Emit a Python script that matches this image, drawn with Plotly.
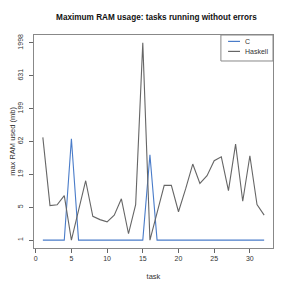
import numpy as np
import plotly.graph_objects as go

tasks = list(range(1, 33))
c_ram = [1, 1, 1, 1, 68.5, 1, 1, 1, 1, 1, 1, 1, 1, 1, 1, 38.7,
         1, 1, 1, 1, 1, 1, 1, 1, 1, 1, 1, 1, 1, 1, 1, 1]
haskell_ram = [72, 5.7, 5.9, 8.5, 1, 4.6, 15, 3.6, 3.1, 2.8, 3.8, 7.5, 1.5, 5.95, 1998, 1,
               4.3, 12.6, 12.6, 4.4, 11, 27.7, 13.6, 18.1, 31.3, 36, 10.3, 56.7, 6.8, 37.4, 5.95, 3.8]
x_ticks = [0, 5, 10, 15, 20, 25, 30]
series_names = ["C", "Haskell"]
series_colors = ["#4a7cc9", "#666666"]


def tr(v):
    return np.log10(np.asarray(v, dtype=float) + 1)


allv = np.array(c_ram + haskell_ram)
lo, hi = tr(allv.min()), tr(allv.max())
ytick_pos = np.linspace(lo, hi, 7)
ytick_txt = [str(int(round(10 ** p - 1))) for p in ytick_pos]
span = hi - lo

fig = go.Figure()
for name, vals, col in zip(series_names, [c_ram, haskell_ram], series_colors):
    fig.add_trace(go.Scatter(x=tasks, y=tr(vals), mode="lines", name=name,
                             line=dict(color=col, width=1.1), showlegend=False))

axis_common = dict(showgrid=False, zeroline=False, showline=True, mirror=True,
                   linecolor="#888888", linewidth=1, ticks="outside", ticklen=4,
                   tickcolor="#666666", tickfont=dict(size=7, color="#333333"),
                   automargin=False)

fig.update_xaxes(range=[1 - 0.04 * 31, 32 + 0.04 * 31], tickvals=x_ticks,
                 title=dict(text="task", font=dict(size=7.5, color="#333333"), standoff=12),
                 **axis_common)
fig.update_yaxes(range=[lo - 0.04 * span, hi + 0.04 * span], tickvals=ytick_pos,
                 ticktext=ytick_txt, tickangle=-90, ticklabelstandoff=3,
                 title=dict(text="max RAM used (mb)", font=dict(size=7.5, color="#333333"), standoff=9),
                 **axis_common)

# legend box (top-right, drawn in paper coordinates)
fig.add_shape(type="rect", xref="paper", yref="paper", x0=0.782, x1=1.0, y0=0.878, y1=1.0,
              line=dict(color="#888888", width=1), fillcolor="white")
for i, (name, col) in enumerate(zip(series_names, series_colors)):
    yy = 0.970 - i * 0.047
    fig.add_shape(type="line", xref="paper", yref="paper", x0=0.812, x1=0.862, y0=yy, y1=yy,
                  line=dict(color=col, width=1.2))
    fig.add_annotation(xref="paper", yref="paper", x=0.875, y=yy, text=name, showarrow=False,
                       xanchor="left", yanchor="middle", font=dict(size=7, color="#333333"))

fig.update_layout(
    width=291, height=291,
    margin=dict(l=26, r=26, t=27, b=51),
    paper_bgcolor="white", plot_bgcolor="white",
    font=dict(family="Liberation Sans, Arial, sans-serif"),
    title=dict(text="<b>Maximum RAM usage: tasks running without errors</b>",
               x=0.51, xanchor="center", y=0.969, yanchor="middle",
               font=dict(size=8.2, color="#111111")),
    showlegend=False,
)

fig.write_html("out.html")
